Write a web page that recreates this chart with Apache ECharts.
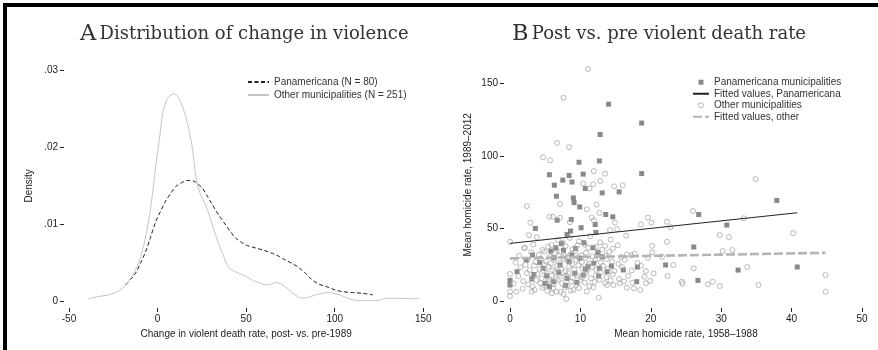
<!DOCTYPE html>
<html><head><meta charset="utf-8">
<script src="https://cdn.jsdelivr.net/npm/echarts@6/dist/echarts.min.js"></script>
<style>html,body{margin:0;padding:0;background:#fff}#c{width:878px;height:350px}</style>
</head><body><div id="c"></div>
<script>
// ---- Panel A: kernel densities (x = change in violent death rate, y = density)
const densityOther = [[-39,0.0003],[-33,0.0006],[-27.5,0.0008],[-21,0.0014],[-17.2,0.0023],[-12.5,0.004],[-8.7,0.0064],[-5.8,0.0095],[-3.4,0.013],[-1.1,0.0175],[1,0.021],[2.6,0.024],[4.5,0.0258],[6.4,0.0266],[9.2,0.027],[11.5,0.0266],[13,0.0259],[15,0.0247],[16.8,0.0232],[19.6,0.02],[21.5,0.0164],[23.3,0.0145],[25,0.0135],[27.2,0.0125],[29.4,0.011],[31.5,0.0095],[34.7,0.0073],[37.5,0.0057],[40.4,0.0043],[44,0.0038],[47,0.0035],[50,0.0032],[53.6,0.0027],[57,0.0024],[61,0.0021],[64,0.0022],[67,0.0024],[70,0.0022],[73,0.0017],[76,0.0011],[79,0.0006],[81,0.0004],[84,0.0004],[86.6,0.0006],[91,0.0009],[96,0.0011],[99,0.001],[102.6,0.0008],[107,0.0004],[111,0.0001],[114,0.00004],[121.5,0.00004],[125,0.0001],[129,0.00035],[136.6,0.00035],[142,0.0003],[148,0.00035]];
const densityPan = [[-18.1,0.0021],[-15.3,0.0028],[-12.5,0.0036],[-9.7,0.0049],[-6.8,0.0064],[-4,0.0083],[-1.1,0.0103],[1.7,0.0117],[4.5,0.013],[7.4,0.014],[10.2,0.0149],[13.5,0.0154],[16.8,0.0157],[20.6,0.0156],[23,0.0152],[25.3,0.0147],[28,0.0137],[31,0.0125],[34.5,0.0112],[38.5,0.0099],[41.3,0.009],[44,0.0082],[47,0.0077],[49.8,0.0073],[55.5,0.0069],[60,0.0066],[64.9,0.0062],[68.7,0.0058],[72.5,0.0053],[76,0.0049],[80,0.0043],[84,0.0035],[87.5,0.0027],[91,0.0022],[95,0.0019],[100.8,0.0014],[105,0.0012],[110,0.0011],[115.8,0.001],[121.5,0.0008]];
const xTicksA = [-50, 0, 50, 100, 150];
const yTicksA = [0, 0.01, 0.02, 0.03];

// ---- Panel B: scatter (x = mean homicide rate 1958-1988, y = 1989-2012)
const panPoints = [[14,135.6],[18.7,122.6],[12.8,114.7],[9.8,95.6],[12.7,96.5],[5.6,87],[8.4,86.5],[10.4,87.4],[18.7,87.8],[7.5,83.3],[8.8,82],[6.3,79.8],[10.7,77.5],[13.1,74.5],[15.5,75.2],[6.6,72.2],[9,71],[9.1,67.8],[9.9,64.8],[37.9,69.3],[6.7,55.7],[8.7,56.2],[13.6,59.6],[14.6,58],[26.8,59.6],[3.6,50],[12.1,52.7],[10.1,50.5],[8.6,48.2],[8.1,45.9],[12.2,47.2],[30.8,52.3],
[9.3,36.2],[7.6,35],[5.8,34.4],[26.1,37.2],[3.2,31.7],[6.2,29.8],[12.5,33.5],[4.2,26.6],[18.1,23.4],[22.1,24.8],[40.8,23.4],[32.4,21.3],[1,20.2],[3.4,18.3],[5.2,17.4],[3.1,15.1],[6.2,13.3],[5.6,9.9],[9.5,12.8],[18,13.3],[26.7,14.2],[0,14.2],[0,11],[12.7,22.5],[9.9,29.4],[8.8,31.7],[7.1,24.8],[11.8,36.7],[11.1,23.6],[13.8,20.2],[10.4,17.9],[8.1,15.6],
[7.3,39.5],[10.5,40.2],[4.7,22.6],[6.9,19.8],[8.4,27.2],[11.9,26.1],[13.1,30.4],[5,12.1],[7.9,10.8],[10.7,21.9],[14.4,24.1],[2.3,28.3],[9.2,19.1],[6.5,36.8],[12.6,17.2],[16.1,21.4]];
const otherPoints = [[11.1,159.8],[7.6,140],[6.7,109],[8.4,106],[4.7,99],[5.7,97],[11.9,89.5],[13.5,87.7],[34.9,84],[10.4,81],[11.8,80.4],[12.8,82.7],[14.8,79],[16,79.7],[11.3,77.5],[2.4,65.4],[7.1,67],[10.9,63.2],[12.3,66.4],[12.7,60.7],[5.6,58],[6.1,58],[7.1,57.3],[11.6,57.5],[11.9,55.6],[14.9,54],[15.2,49.5],[2.9,53.9],[8.5,54.3],[2.7,45.4],[0,40.8],[2,36.7],[5.4,37.4],[14.2,48.9],[16.5,45],[18.6,52.7],[19.6,57.5],[20.1,54],[22.3,54.6],[22.8,50.9],[26,62],[33.2,57],[29.8,45.4],[31.1,44],[40.2,46.8],[22.3,40.8],[20.2,38],[20.2,33.5],[16.6,32.1],[17.7,32.6],[21.6,30.5],[23.2,24.8],[26.1,22.5],[33.7,23.4],[30.2,34.4],[31.6,35.1],[44.8,17.9],[44.8,6.4],[35.3,11],[29.8,10.3],[28.1,11.5],[28.8,13.3],[24.4,13.3],[24.5,12],[22.4,17.2],[20.4,19],[19.3,20.6],[19.1,16.7],[19.3,12.2],[19.9,13.8],[17.6,8.7],[18.5,7.6],[16.6,9.2],[15.6,12.2],[14.7,11],[13.8,11],[12.6,2.3],[8,1.4],[0,6.4],[0,3.4],[0.9,6.4],[0,18.6],[3.1,6.4],[6.6,6.4],[9,7.6],
[3.8,44],[6.8,42],[8.5,43.5],[9.8,41],[11.4,44.5],[12.8,40.5],[14.3,42.3],[7.5,40.2],[10.6,38.9],[13.5,38],
[2.1,36.5],[4.6,35.2],[5.9,38.6],[6.5,36.2],[7.9,37.8],[8.9,35.6],[9.6,38.2],[11.1,36.7],[12.2,37.4],[13.1,35.3],[14.6,36.1],[15.3,38.4],[3.3,38.9],
[1.3,31.2],[3,33.5],[4.1,31.8],[4.9,34.1],[5.7,30.6],[6.4,32.9],[7.2,33.8],[7.8,30.9],[8.6,32.3],[9.3,34.4],[10.1,31.5],[10.8,33.2],[11.7,30.8],[12.4,32.7],[13.6,31.1],[14.1,33.9],[15.8,30.3],[17.2,31.4],[6.9,31.5],[9.7,30.2],
[0.8,26.4],[2.5,28.2],[3.6,26.9],[4.4,29.1],[5.1,27.3],[5.8,25.8],[6.3,28.6],[7.1,26.1],[7.6,29.4],[8.2,27.5],[8.8,25.4],[9.4,28.3],[10.2,26.8],[10.7,29.6],[11.3,25.9],[12.1,28.1],[12.9,26.5],[13.7,29],[14.5,27.2],[15.4,25.6],[16.3,28.4],[18.1,26.3],[19.6,29.7],[4.9,25.2],[8.1,29.9],
[1.5,23.3],[2.8,21.4],[3.4,24.4],[4.2,22.1],[4.8,20.6],[5.5,23.7],[6.1,21.2],[6.7,24.3],[7.3,22.6],[7.9,20.4],[8.4,23.9],[9.1,21.7],[9.7,24.6],[10.3,22.4],[10.9,20.9],[11.6,23.1],[12.3,21.5],[13.2,24.2],[13.9,22],[14.8,20.7],[15.9,23.4],[17.3,21.1],[18.6,24.3],[6.4,20.1],[11.1,24.8],[2.2,24.9],
[1.2,17.1],[2.4,19.2],[3.1,16.3],[3.9,18.4],[4.5,15.7],[5.2,19.5],[5.9,17.2],[6.5,15.4],[7,18.9],[7.7,16.6],[8.3,19.3],[8.9,15.9],[9.5,17.8],[10.2,16.2],[10.8,19.1],[11.5,15.6],[12.2,17.6],[12.9,19.8],[13.7,16.4],[14.6,18.3],[15.5,15.2],[16.8,17.4],[5.6,15.1],[8,17.4],
[0.5,12.1],[1.9,13.7],[2.6,11.3],[3.7,14.2],[4.3,12.4],[4.9,10.6],[5.4,13.8],[6.2,11.7],[6.8,14.5],[7.4,12.2],[8.1,10.4],[8.7,13.4],[9.4,11.1],[10,14.3],[10.6,12.6],[11.3,10.2],[12,13.1],[12.7,14.8],[13.5,12.3],[14.3,14.1],[16.2,13.5],[17.4,12.6],[3.2,10.1],
[1.8,8.4],[3.5,7.6],[4.6,9.1],[5.3,6.9],[6.1,8.8],[7.2,6.2],[7.8,9.5],[8.6,7.1],[9.8,8.9],[10.9,6.6],[11.8,9.4],[5.9,5.3],[7.6,4.8]];
const fitPan = [[0,39.7],[40.8,60.8]];
const fitOther = [[0,29.4],[44.8,33.2]];
const xTicksB = [0, 10, 20, 30, 40, 50];
const yTicksB = [0, 50, 100, 150];

const SANS = '"Liberation Sans", Arial, Helvetica, sans-serif';
const SERIF = '"DejaVu Serif", serif';
const TXT = '#222';
const NOSYM = {color: 'rgba(0,0,0,0)', borderWidth: 0, opacity: 0};

function axisCommon(ticks, fmt) {
  return {
    axisLine: {show: false, onZero: false},
    splitLine: {show: false},
    axisTick: {show: true, length: 4, lineStyle: {color: '#222', width: 1}, customValues: ticks},
    axisLabel: {color: TXT, fontFamily: SANS, fontSize: 10, margin: 6, customValues: ticks, formatter: fmt}
  };
}
function titleRich(letter, rest) {
  return {text: '{a|' + letter + '} {t|' + rest + '}', textVerticalAlign: 'bottom',
    rich: {a: {fontFamily: SERIF, fontSize: 22.5, fill: '#333'}, t: {fontFamily: SERIF, fontSize: 18, fill: '#333'}}};
}

const chart = echarts.init(document.getElementById('c'), null, {renderer: 'canvas'});
chart.setOption({
  animation: false,
  backgroundColor: '#fff',
  graphic: [
    {type: 'rect', shape: {x: 3, y: 3, width: 875, height: 4}, style: {fill: '#000'}},
    {type: 'rect', shape: {x: 3, y: 3, width: 4, height: 347}, style: {fill: '#000'}},
    {type: 'text', x: 80, y: 46, style: titleRich('A', 'Distribution of change in violence')},
    {type: 'text', x: 512, y: 46, style: titleRich('B', 'Post vs. pre violent death rate')}
  ],
  grid: [
    {left: 69, right: 454.7, top: 70.7, bottom: 49},
    {left: 510, right: 16, top: 68.8, bottom: 49}
  ],
  xAxis: [
    Object.assign({type: 'value', gridIndex: 0, min: -50, max: 150, interval: 50, offset: 7,
      name: 'Change in violent death rate, post- vs. pre-1989', nameLocation: 'middle', nameGap: 17,
      nameTextStyle: {color: TXT, fontFamily: SANS, fontSize: 10}}, axisCommon(xTicksA, v => String(v))),
    Object.assign({type: 'value', gridIndex: 1, min: 0, max: 50, interval: 10, offset: 7,
      name: 'Mean homicide rate, 1958\u20131988', nameLocation: 'middle', nameGap: 17,
      nameTextStyle: {color: TXT, fontFamily: SANS, fontSize: 10}}, axisCommon(xTicksB, v => String(v)))
  ],
  yAxis: [
    Object.assign({type: 'value', gridIndex: 0, min: 0, max: 0.03, interval: 0.01, offset: 5,
      name: 'Density', nameLocation: 'middle', nameGap: 30,
      nameTextStyle: {color: TXT, fontFamily: SANS, fontSize: 10}},
      axisCommon(yTicksA, v => v === 0 ? '0' : v.toFixed(2).replace(/^0\./, '.'))),
    Object.assign({type: 'value', gridIndex: 1, min: 0, max: 160, interval: 50, offset: 6,
      name: 'Mean homicide rate, 1989\u20132012', nameLocation: 'middle', nameGap: 31,
      nameTextStyle: {color: TXT, fontFamily: SANS, fontSize: 10}}, axisCommon(yTicksB, v => String(v)))
  ],
  legend: [
    {left: 242, top: 70.5, orient: 'vertical', itemWidth: 21, itemHeight: 8, itemGap: 0,
      textStyle: {color: '#333', fontFamily: SANS, fontSize: 10, lineHeight: 13},
      data: [{name: 'Panamericana (N = 80)', itemStyle: NOSYM}, {name: 'Other municipalities (N = 251)', itemStyle: NOSYM}]},
    {left: 687, top: 71.5, orient: 'vertical', itemWidth: 16, itemHeight: 5, itemGap: 0,
      textStyle: {color: '#333', fontFamily: SANS, fontSize: 10, lineHeight: 11.5},
      data: [
        {name: 'Panamericana municipalities', icon: 'path://M0,0M16,5M5.5,0h5v5h-5z'},
        {name: 'Fitted values, Panamericana', itemStyle: NOSYM},
        {name: 'Other municipalities', itemStyle: {color: 'rgba(0,0,0,0)', borderColor: '#a8a8a8', borderWidth: 1}},
        {name: 'Fitted values, other', itemStyle: NOSYM}
      ]}
  ],
  series: [
    {name: 'Panamericana (N = 80)', type: 'line', xAxisIndex: 0, yAxisIndex: 0, data: densityPan,
      smooth: 0.3, symbol: 'none', lineStyle: {color: '#222', width: 1, type: [4, 2.5]}, itemStyle: {color: '#222'}},
    {name: 'Other municipalities (N = 251)', type: 'line', xAxisIndex: 0, yAxisIndex: 0, data: densityOther,
      smooth: 0.3, symbol: 'none', lineStyle: {color: '#c4c4c4', width: 1}, itemStyle: {color: '#c4c4c4'}},
    {name: 'Panamericana municipalities', type: 'scatter', xAxisIndex: 1, yAxisIndex: 1, data: panPoints,
      symbol: 'rect', symbolSize: 5, itemStyle: {color: '#6b6b6b'}, clip: false},
    {name: 'Fitted values, Panamericana', type: 'line', xAxisIndex: 1, yAxisIndex: 1, data: fitPan,
      symbol: 'none', lineStyle: {color: '#222', width: 1}, itemStyle: {color: '#222'}},
    {name: 'Other municipalities', type: 'scatter', xAxisIndex: 1, yAxisIndex: 1, data: otherPoints,
      symbol: 'circle', symbolSize: 5, itemStyle: {color: 'rgba(0,0,0,0)', borderColor: '#a8a8a8', borderWidth: 1}, clip: false},
    {name: 'Fitted values, other', type: 'line', xAxisIndex: 1, yAxisIndex: 1, data: fitOther,
      symbol: 'none', lineStyle: {color: '#b4b4b4', width: 2.6, type: [9, 3]}, itemStyle: {color: '#b4b4b4'}}
  ]
});
</script></body></html>
